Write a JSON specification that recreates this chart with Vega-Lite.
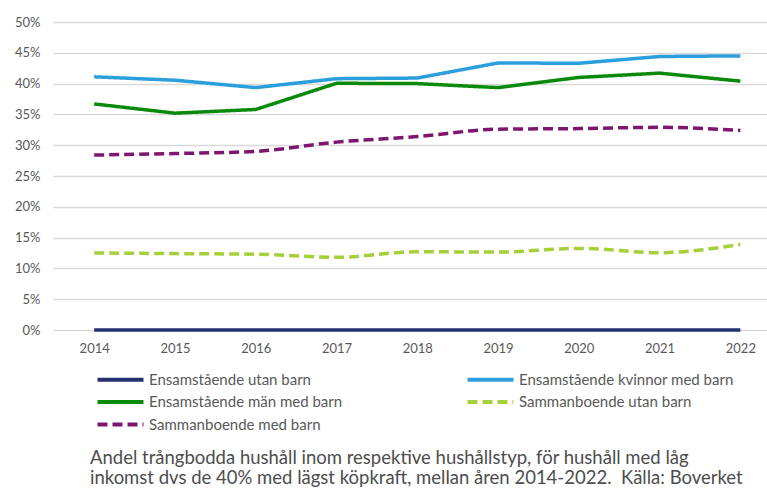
{
  "$schema": "https://vega.github.io/schema/vega-lite/v6.json",
  "autosize": {"type": "none"},
  "padding": {"left": 53, "top": 22, "right": 0, "bottom": 158},
  "width": 714,
  "height": 308,
  "background": "white",
  "config": {
    "view": {"stroke": null},
    "font": "Lato",
    "axis": {"labelColor": "#595959", "labelFont": "Lato", "labelFontSize": 13, "ticks": false, "domain": false, "title": null},
    "legend": {
      "orient": "none", "legendX": 60, "legendY": 350, "columns": 2, "columnPadding": 116, "rowPadding": 5.5,
      "symbolType": "M-5,0H5", "symbolSize": 84.64, "symbolStrokeWidth": 4, "labelFontSize": 15, "labelFont": "Lato",
      "labelColor": "#595959", "labelOffset": 21, "title": null, "padding": 0, "labelLimit": 400
    },
    "title": {"font": "Lato", "fontSize": 18.5, "fontWeight": "normal", "color": "#4d4d4d", "lineHeight": 20}
  },
  "title": {
    "text": ["Andel trångbodda hushåll inom respektive hushållstyp, för hushåll med låg", "inkomst dvs de 40% med lägst köpkraft, mellan åren 2014-2022.\u00a0 Källa: Boverket"],
    "orient": "bottom", "anchor": "start", "frame": "group", "dx": 37, "offset": 0, "dy": 16
  },
  "data": {"values": [
    {"year": 2014, "series": "Ensamstående utan barn", "value": 0},
    {"year": 2015, "series": "Ensamstående utan barn", "value": 0},
    {"year": 2016, "series": "Ensamstående utan barn", "value": 0},
    {"year": 2017, "series": "Ensamstående utan barn", "value": 0},
    {"year": 2018, "series": "Ensamstående utan barn", "value": 0},
    {"year": 2019, "series": "Ensamstående utan barn", "value": 0},
    {"year": 2020, "series": "Ensamstående utan barn", "value": 0},
    {"year": 2021, "series": "Ensamstående utan barn", "value": 0},
    {"year": 2022, "series": "Ensamstående utan barn", "value": 0},
    {"year": 2014, "series": "Ensamstående kvinnor med barn", "value": 0.411},
    {"year": 2015, "series": "Ensamstående kvinnor med barn", "value": 0.4055},
    {"year": 2016, "series": "Ensamstående kvinnor med barn", "value": 0.3935},
    {"year": 2017, "series": "Ensamstående kvinnor med barn", "value": 0.408},
    {"year": 2018, "series": "Ensamstående kvinnor med barn", "value": 0.409},
    {"year": 2019, "series": "Ensamstående kvinnor med barn", "value": 0.4335},
    {"year": 2020, "series": "Ensamstående kvinnor med barn", "value": 0.433},
    {"year": 2021, "series": "Ensamstående kvinnor med barn", "value": 0.444},
    {"year": 2022, "series": "Ensamstående kvinnor med barn", "value": 0.445},
    {"year": 2014, "series": "Ensamstående män med barn", "value": 0.367},
    {"year": 2015, "series": "Ensamstående män med barn", "value": 0.352},
    {"year": 2016, "series": "Ensamstående män med barn", "value": 0.358},
    {"year": 2017, "series": "Ensamstående män med barn", "value": 0.4005},
    {"year": 2018, "series": "Ensamstående män med barn", "value": 0.4},
    {"year": 2019, "series": "Ensamstående män med barn", "value": 0.3935},
    {"year": 2020, "series": "Ensamstående män med barn", "value": 0.41},
    {"year": 2021, "series": "Ensamstående män med barn", "value": 0.417},
    {"year": 2022, "series": "Ensamstående män med barn", "value": 0.404},
    {"year": 2014, "series": "Sammanboende utan barn", "value": 0.125},
    {"year": 2015, "series": "Sammanboende utan barn", "value": 0.124},
    {"year": 2016, "series": "Sammanboende utan barn", "value": 0.123},
    {"year": 2017, "series": "Sammanboende utan barn", "value": 0.118},
    {"year": 2018, "series": "Sammanboende utan barn", "value": 0.127},
    {"year": 2019, "series": "Sammanboende utan barn", "value": 0.1265},
    {"year": 2020, "series": "Sammanboende utan barn", "value": 0.1325},
    {"year": 2021, "series": "Sammanboende utan barn", "value": 0.1255},
    {"year": 2022, "series": "Sammanboende utan barn", "value": 0.139},
    {"year": 2014, "series": "Sammanboende med barn", "value": 0.284},
    {"year": 2015, "series": "Sammanboende med barn", "value": 0.2865},
    {"year": 2016, "series": "Sammanboende med barn", "value": 0.29},
    {"year": 2017, "series": "Sammanboende med barn", "value": 0.305},
    {"year": 2018, "series": "Sammanboende med barn", "value": 0.314},
    {"year": 2019, "series": "Sammanboende med barn", "value": 0.326},
    {"year": 2020, "series": "Sammanboende med barn", "value": 0.327},
    {"year": 2021, "series": "Sammanboende med barn", "value": 0.329},
    {"year": 2022, "series": "Sammanboende med barn", "value": 0.324}
  ]},
  "encoding": {
    "x": {"field": "year", "type": "quantitative", "scale": {"domain": [2013.49, 2022.33], "nice": false, "zero": false},
      "axis": {"values": [2014, 2015, 2016, 2017, 2018, 2019, 2020, 2021, 2022], "format": "d", "grid": false, "labelPadding": 12}},
    "y": {"field": "value", "type": "quantitative", "scale": {"domain": [0, 0.5], "nice": false},
      "axis": {"values": [0, 0.05, 0.1, 0.15, 0.2, 0.25, 0.3, 0.35, 0.4, 0.45, 0.5], "format": ".0%", "gridColor": "#d9d9d9", "gridWidth": 1.3, "labelPadding": 13}},
    "color": {"field": "series", "type": "nominal",
      "scale": {"domain": ["Ensamstående utan barn", "Ensamstående män med barn", "Sammanboende med barn", "Ensamstående kvinnor med barn", "Sammanboende utan barn"],
        "range": ["#253070", "#0a8a0a", "#7e1670", "#2a9fdb", "#a6cf3a"]}},
    "strokeDash": {"field": "series", "type": "nominal",
      "scale": {"domain": ["Ensamstående utan barn", "Ensamstående män med barn", "Sammanboende med barn", "Ensamstående kvinnor med barn", "Sammanboende utan barn"],
        "range": [[1, 0], [1, 0], [10, 5], [1, 0], [10, 5]]}}
  },
  "layer": [
    {"transform": [{"filter": "indexof(datum.series, 'Ensamstående') === 0"}],
     "mark": {"type": "line", "strokeWidth": 3.5, "interpolate": "linear"}},
    {"transform": [{"filter": "indexof(datum.series, 'Sammanboende') === 0"}],
     "mark": {"type": "line", "strokeWidth": 3.5, "interpolate": "monotone"}}
  ]
}
